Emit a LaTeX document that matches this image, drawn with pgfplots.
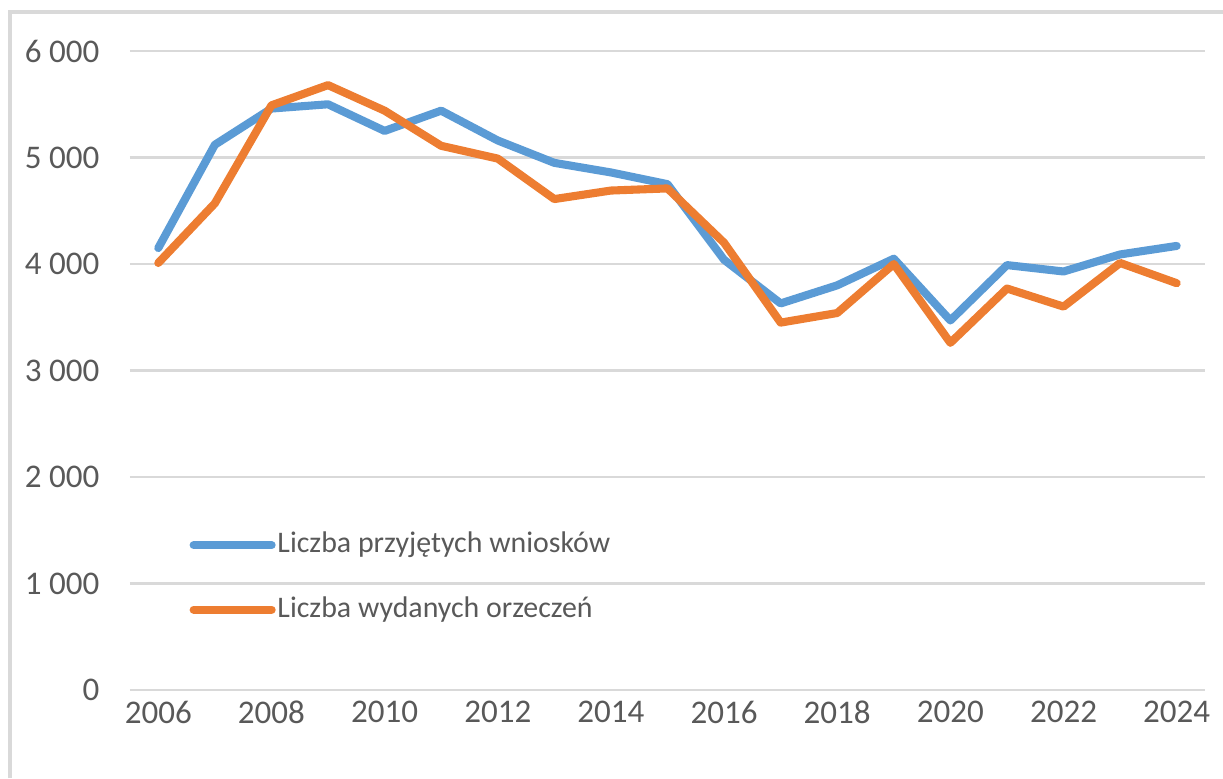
\documentclass[border=0pt]{standalone}
\usepackage{fontspec}
\setmainfont{Carlito}
\usepackage{pgfplots}
\pgfplotsset{compat=1.18}
\definecolor{xlblue}{HTML}{5B9BD5}
\definecolor{xlorange}{HTML}{ED7D31}
\definecolor{gridgray}{HTML}{D9D9D9}
\definecolor{txtgray}{HTML}{595959}

\pgfplotstableread{
year wnioski orzeczenia
2006 4150 4010
2007 5120 4570
2008 5460 5490
2009 5500 5680
2010 5250 5440
2011 5440 5110
2012 5160 4990
2013 4950 4610
2014 4860 4690
2015 4750 4710
2016 4040 4200
2017 3630 3450
2018 3800 3540
2019 4050 4000
2020 3470 3260
2021 3990 3770
2022 3930 3600
2023 4090 4010
2024 4170 3820
}\dane

\begin{document}
\begin{tikzpicture}
\begin{axis}[
    name=wykres,
    at={(0,0)}, anchor=south west,
    scale only axis,
    width=10.75cm, height=6.39cm,
    xmin=2005.5, xmax=2024.5,
    ymin=0, ymax=6000,
    axis line style={draw=none},
    major tick length=0pt,
    xtick={2006,2008,...,2024},
    ytick={0,1000,...,6000},
    yticklabels={0,1 000,2 000,3 000,4 000,5 000,6 000},
    xticklabel style={/pgf/number format/1000 sep={}, inner sep=0pt, anchor=north, yshift=-0.10cm},
    yticklabel style={inner sep=0pt, anchor=east, xshift=-0.30cm},
    /pgf/number format/assume math mode=true,
    ticklabel style={font=\fontsize{9.4}{11}\selectfont, text=txtgray},
    ymajorgrids,
    major grid style={gridgray, line width=0.8pt},
    legend style={draw=none, fill=none, at={(0.045,0.262)}, anchor=north west,
        font=\fontsize{8.5}{10}\selectfont, text=txtgray, row sep=0.35cm,
        nodes={inner sep=0.5pt}},
    legend cell align=left,
    legend image code/.code={\draw[#1] (0cm,0cm) -- (0.78cm,0cm);},
    every axis plot/.append style={line width=2.3pt, line join=round, line cap=round},
]
\addplot[xlblue] table[x=year, y=wnioski] {\dane};
\addlegendentry{Liczba przyjętych wniosków}
\addplot[xlorange] table[x=year, y=orzeczenia] {\dane};
\addlegendentry{Liczba wydanych orzeczeń}
\end{axis}
\pgfresetboundingbox
\useasboundingbox (-1.30,-0.88) rectangle (10.93,6.90);
\draw[gridgray, line width=0.9pt] (-1.20,-0.88) -- (-1.20,6.78) -- (10.93,6.78);
\end{tikzpicture}
\end{document}
